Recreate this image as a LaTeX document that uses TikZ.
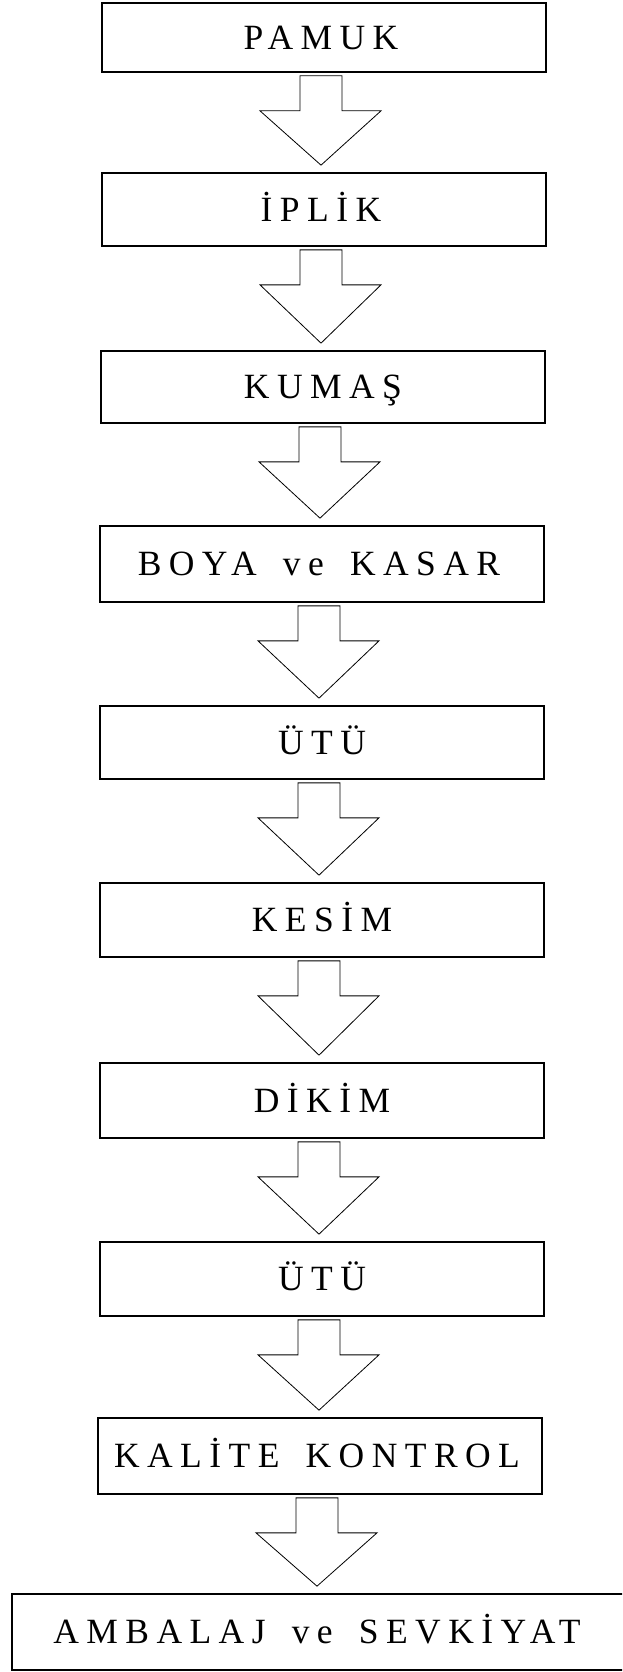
\documentclass[tikz,border=0pt]{standalone}
\usepackage{fontspec}
\setmainfont{Liberation Serif}
\newfontfamily\lblfont[LetterSpace=21,WordSpace=1.6]{Liberation Serif}
\usetikzlibrary{calc}
\tikzset{
  x=1pt, y=1pt,
  stepbox/.style={draw=black, line width=1.7pt, minimum width=444pt, inner sep=0pt, fill=none},
  lbl/.style={font=\lblfont\fontsize{35.5}{42}\selectfont, inner sep=0pt, text height=23.5pt, text depth=0pt},
  blockarr/.style={draw=black, line width=0.8pt, line join=miter}
}
\newcommand\blockarrow[2]{%
  \draw[blockarr] let \p1=($(#1.south)+(-3,0)$), \p2=($(#2.north)+(-3,0)$) in
    (\x1-21,\y1-3) -- (\x1-21,\y1-38) -- (\x1-61,\y1-38) -- (\x1,\y2+7)
    -- (\x1+60,\y1-38) -- (\x1+21,\y1-38) -- (\x1+21,\y1-3) -- cycle;}
\begin{document}
\begin{tikzpicture}
\useasboundingbox (0,0) rectangle (622,-1672);
\clip (0,0) rectangle (622,-1672);
% boxes
\node[stepbox, minimum height=69pt] (b1) at (324,-37.5) {};
\node[stepbox, minimum height=73pt] (b2) at (324,-209.5) {};
\node[stepbox, minimum height=72pt] (b3) at (323,-387) {};
\node[stepbox, minimum height=76pt] (b4) at (322,-564) {};
\node[stepbox, minimum height=73pt] (b5) at (322,-742.5) {};
\node[stepbox, minimum height=74pt] (b6) at (322,-920) {};
\node[stepbox, minimum height=75pt] (b7) at (322,-1100.5) {};
\node[stepbox, minimum height=74pt] (b8) at (322,-1279) {};
\node[stepbox, minimum height=76pt] (b9) at (320,-1456) {};
\node[stepbox, minimum height=76pt, minimum width=628pt] (b10) at (326,-1632) {};
% labels
\node[lbl] (t1) at (321,-37.5) {PAMUK};
\node[lbl] (t2) at (321,-209.5) {İPLİK};
\node[lbl] (t3) at (323,-387) {KUMAŞ};
\node[lbl] (t4) at (319,-564) {BOYA ve KASAR};
\node[lbl] (t5) at (322,-742.5) {ÜTÜ};
\node[lbl] (t6) at (322,-920) {KESİM};
\node[lbl] (t7) at (322,-1100.5) {DİKİM};
\node[lbl] (t8) at (322,-1279) {ÜTÜ};
\node[lbl] (t9) at (317,-1456) {KALİTE KONTROL};
\node[lbl] (t10) at (317,-1632) {AMBALAJ ve SEVKİYAT};
% arrows
\blockarrow{b1}{b2}
\blockarrow{b2}{b3}
\blockarrow{b3}{b4}
\blockarrow{b4}{b5}
\blockarrow{b5}{b6}
\blockarrow{b6}{b7}
\blockarrow{b7}{b8}
\blockarrow{b8}{b9}
\blockarrow{b9}{b10}
\end{tikzpicture}
\end{document}
